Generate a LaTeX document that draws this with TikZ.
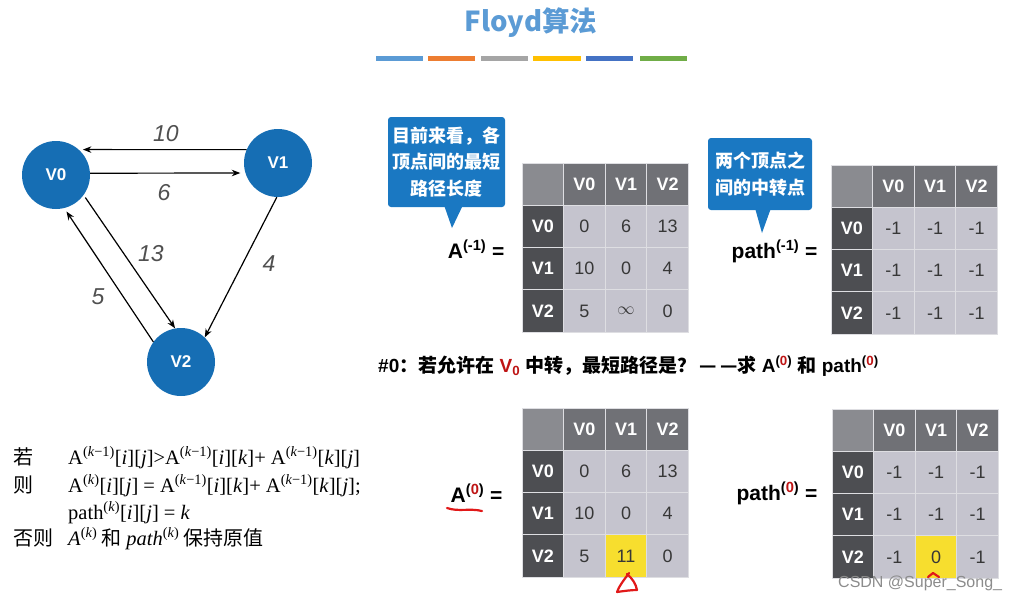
\documentclass[tikz,border=0pt]{standalone}
\usepackage{fontspec}
\setmainfont{Liberation Sans}
\newfontfamily\cjk{Noto Sans CJK SC}
\newfontfamily\fserif{Liberation Serif}
\usetikzlibrary{arrows.meta,calc}
\definecolor{nodeblue}{RGB}{22,110,180}
\definecolor{callblue}{RGB}{26,120,194}
\definecolor{titleblue}{RGB}{91,155,213}
\definecolor{hdr}{RGB}{112,113,118}
\definecolor{cornerc}{RGB}{138,139,144}
\definecolor{rowh}{RGB}{77,78,82}
\definecolor{cellc}{RGB}{197,196,206}
\definecolor{gridc}{RGB}{222,222,226}
\definecolor{hl}{RGB}{247,222,46}
\definecolor{markred}{RGB}{225,25,25}
\definecolor{supred}{RGB}{190,20,20}
\definecolor{valtext}{RGB}{55,55,55}
\definecolor{lbl}{RGB}{80,80,80}
\definecolor{bar1}{RGB}{91,155,213}
\definecolor{bar2}{RGB}{237,125,49}
\definecolor{bar3}{RGB}{165,165,165}
\definecolor{bar4}{RGB}{255,192,0}
\definecolor{bar5}{RGB}{68,114,196}
\definecolor{bar6}{RGB}{112,173,71}
\newcommand\fsup[1]{\textsuperscript{(#1)}}
\newcommand\floydtab[5]{%
  \node[cornercell] (#1-00) at ({#2+20.8},{#3+21.15}) {};
  \foreach \hh [count=\nn] in {V0,V1,V2}{%
    \node[hdrcell] (#1-0\nn) at ({#2+20.8+41.6*\nn},{#3+21.15}) {\hh};
    \node[rowcell] (#1-\nn0) at ({#2+20.8},{#3+21.15+42.3*\nn}) {\hh};
  }
  \foreach \vv [count=\ii from 0] in {#4}{%
    \pgfmathtruncatemacro\rr{\ii/3+1}
    \pgfmathtruncatemacro\cc{mod(\ii,3)+1}
    \ifnum\ii=#5 \def\cf{hl}\else\def\cf{cellc}\fi
    \node[valcell,fill=\cf] (#1-\rr\cc) at ({#2+20.8+41.6*\cc},{#3+21.15+42.3*\rr}) {\vv};
  }
}
\begin{document}
\begin{tikzpicture}[x=1pt,y=-1pt,
  vtx/.style={circle,fill=nodeblue,minimum size=68pt,inner sep=0,text=white,font=\bfseries\fontsize{17}{20}\selectfont},
  arr/.style={-{Stealth[length=8.5pt,width=6.5pt]},line width=1.2pt,black},
  elbl/.style={font=\itshape\fontsize{23}{26}\selectfont,text=lbl},
  basecell/.style={rectangle,minimum width=41.6pt,minimum height=42.3pt,inner sep=0,draw=gridc,line width=0.9pt},
  cornercell/.style={basecell,fill=cornerc},
  hdrcell/.style={basecell,fill=hdr,text=white,font=\bfseries\fontsize{18}{20}\selectfont},
  rowcell/.style={basecell,fill=rowh,text=white,font=\bfseries\fontsize{18}{20}\selectfont},
  valcell/.style={basecell,fill=cellc,text=valtext,font=\fontsize{18}{20}\selectfont},
  callout/.style={rectangle,fill=callblue,rounded corners=3pt,text=white,align=center,inner sep=0},
  eqlbl/.style={anchor=base east,font=\bfseries\fontsize{21}{24}\selectfont},
  form/.style={anchor=base west,font=\fserif\fontsize{20.5}{23}\selectfont,inner sep=0},
  cjkl/.style={anchor=base west,font=\cjk\fontsize{20}{22}\selectfont,inner sep=0},
  redmark/.style={markred,line width=2.2pt,line cap=round,line join=round}
]
\useasboundingbox (0,0) rectangle (1014,600);
\fill[white] (0,0) rectangle (1014,600);

% title and bars
\node (title) at (531,23) {\cjk\bfseries\fontsize{27.5}{30}\selectfont\color{titleblue}Floyd算法};
\fill[bar1] (376,56) rectangle (423,61);
\fill[bar2] (428,56) rectangle (475,61);
\fill[bar3] (481,56) rectangle (528,61);
\fill[bar4] (533,56) rectangle (581,61);
\fill[bar5] (586,56) rectangle (633,61);
\fill[bar6] (640,56) rectangle (687,61);

% graph
\node[vtx] (V0) at (56,175) {V0};
\node[vtx] (V1) at (278,163) {V1};
\node[vtx] (V2) at (181,362) {V2};
\draw[arr,shorten >=4pt] (V1.157) -- (V0.48);
\draw[arr,shorten >=5pt] (V0.3.4) -- (V1.197.4);
\draw[arr,shorten <=3pt] (V0.-36) -- (V2.100);
\draw[arr,shorten >=4pt] (V2.144) -- (V0.-76);
\draw[arr] (V1.-92) -- (V2.46);
\node[elbl] (l10) at (166,134) {10};
\node[elbl] (l6) at (164,193) {6};
\node[elbl] (l13) at (151,254) {13};
\node[elbl] (l5) at (98,297) {5};
\node[elbl] (l4) at (269,264) {4};

% callouts
\node[callout,minimum width=117pt,minimum height=90pt,font=\cjk\bfseries\fontsize{18}{26.5}\selectfont] (c1) at (446.5,162) {目前来看，各\\顶点间的最短\\路径长度};
\coordinate (c1tip) at (452,228);
\fill[callblue] (444,205) -- (c1tip) -- (463,205) -- cycle;
\node[callout,minimum width=104pt,minimum height=72pt,font=\cjk\bfseries\fontsize{18}{27}\selectfont] (c2) at (760,174) {两个顶点之\\间的中转点};
\coordinate (c2tip) at (762,233);
\fill[callblue] (755,208) -- (c2tip) -- (771,208) -- cycle;

% tables
\floydtab{Am}{522}{163}{0,6,13,10,0,4,5,$\infty$,0}{-1}
\floydtab{Pm}{831}{165}{-1,-1,-1,-1,-1,-1,-1,-1,-1}{-1}
\floydtab{Az}{522}{408}{0,6,13,10,0,4,5,11,0}{7}
\floydtab{Pz}{832}{409}{-1,-1,-1,-1,-1,-1,-1,0,-1}{7}

\node[eqlbl] (lAm) at (508,258) {A\textsuperscript{(-1)} =};
\node[eqlbl] (lPm) at (821,258) {path\textsuperscript{(-1)} =};
\node[eqlbl] (lAz) at (506,502) {A\textsuperscript{(\textcolor{supred}{0})} =};
\node[eqlbl] (lPz) at (821,500) {path\textsuperscript{(\textcolor{supred}{0})} =};

% heading
\node[anchor=base west,inner sep=0,font=\bfseries\fontsize{19}{22}\selectfont] (step) at (378,372)
  {\#0{\cjk：若允许在} {\color{supred}V\textsubscript{0}} {\cjk 中转，最短路径是？}\,{\cjk —\,—求} A\textsuperscript{(\textcolor{supred}{0})} {\cjk 和} path\textsuperscript{(\textcolor{supred}{0})}};

% formula block
\node[cjkl] (ruo) at (13,464) {若};
\node[form] (f1) at (68,464) {A\fsup{\textit{k}−1}[\textit{i}][\textit{j}]>A\fsup{\textit{k}−1}[\textit{i}][\textit{k}]+ A\fsup{\textit{k}−1}[\textit{k}][\textit{j}]};
\node[cjkl] (ze) at (13,492) {则};
\node[form] (f2) at (68,492) {A\fsup{\textit{k}}[\textit{i}][\textit{j}] = A\fsup{\textit{k}−1}[\textit{i}][\textit{k}]+ A\fsup{\textit{k}−1}[\textit{k}][\textit{j}];};
\node[form] (f3) at (68,519) {path\fsup{\textit{k}}[\textit{i}][\textit{j}] = \textit{k}};
\node[cjkl] (fouze) at (13,545) {否则};
\node[cjkl] (f4) at (68,545) {{\fserif\fontsize{20.5}{23}\selectfont\textit{A}\fsup{\textit{k}}} 和 {\fserif\fontsize{20.5}{23}\selectfont\textit{path}\fsup{\textit{k}}} 保持原值};

% red hand marks
\draw[redmark] (447,508) .. controls (458,512) and (470,508) .. (482,511);
\draw[redmark] (629,573) .. controls (624,580) and (619,586) .. (617,592) .. controls (624,591) and (631,590) .. (637,590) .. controls (636,584) and (632,578) .. (627,574);
\draw[redmark] (928,577) -- (933,573) -- (939,577);

% watermark
\node[anchor=base west,inner sep=0,font=\fontsize{16}{18}\selectfont,text=black!45] (wm) at (838,587) {CSDN @Super\_Song\_};
\end{tikzpicture}
\end{document}
